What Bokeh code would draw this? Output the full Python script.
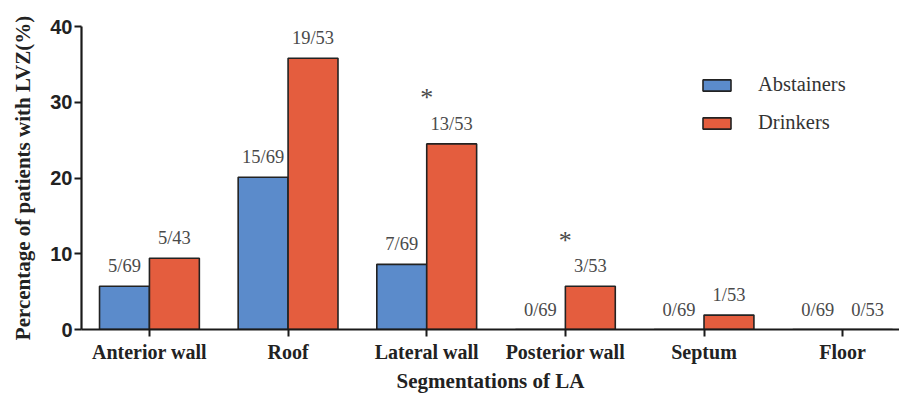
import numpy as np
from bokeh.plotting import figure
from bokeh.models import Range1d, FixedTicker, ColumnDataSource, Legend, LegendItem
from bokeh.core.properties import value
from bokeh.embed import file_html
from bokeh.resources import INLINE

categories = ["Anterior wall", "Roof", "Lateral wall", "Posterior wall", "Septum", "Floor"]
abstainers = [5.7, 20.1, 8.6, 0.0, 0.0, 0.0]
drinkers = [9.4, 35.8, 24.5, 5.7, 1.9, 0.0]
abst_labels = ["5/69", "15/69", "7/69", "0/69", "0/69", "0/69"]
drink_labels = ["5/43", "19/53", "13/53", "3/53", "1/53", "0/53"]
significant = ["Lateral wall", "Posterior wall"]
y_ticks = [0, 10, 20, 30, 40]

BLUE = "#5B8BCB"
RED = "#E45D3E"
SERIF = "Liberation Serif"

idx = np.arange(len(categories))
bw = 0.36

src_a = ColumnDataSource(dict(x=idx - bw / 2, top=abstainers, lab=abst_labels))
src_d = ColumnDataSource(dict(x=idx + bw / 2, top=drinkers, lab=drink_labels))
sig_idx = [categories.index(c) for c in significant]
src_s = ColumnDataSource(dict(x=[idx[i] for i in sig_idx],
                              y=[drinkers[i] for i in sig_idx],
                              t=["*"] * len(sig_idx)))

p = figure(width=899, height=395, output_backend="svg", toolbar_location=None,
           x_range=Range1d(-0.49, 5.41), y_range=Range1d(0, 40),
           min_border_left=81, min_border_right=0, min_border_top=26, min_border_bottom=0)
p.outline_line_color = None
p.grid.visible = False
p.background_fill_color = "white"

ra = p.vbar(x="x", top="top", width=bw, bottom=0, source=src_a,
            fill_color=BLUE, line_color="#222222", line_width=1.6)
rd = p.vbar(x="x", top="top", width=bw, bottom=0, source=src_d,
            fill_color=RED, line_color="#222222", line_width=1.6)

for s in (src_a, src_d):
    p.text(x="x", y="top", text="lab", source=s, text_align="center",
           text_baseline="middle", y_offset=-20, text_font=value(SERIF),
           text_font_size="18.5px", text_color="#4a4a4a")

p.text(x="x", y="y", text="t", source=src_s, text_align="center",
       text_baseline="middle", y_offset=-46, text_font=value(SERIF),
       text_font_size="26px", text_color="#4a4a4a")

# axes
p.xaxis.ticker = FixedTicker(ticks=list(idx))
p.xaxis.major_label_overrides = {int(i): c for i, c in zip(idx, categories)}
p.xaxis.minor_tick_line_color = None
p.yaxis.ticker = FixedTicker(ticks=y_ticks)
p.yaxis.minor_tick_line_color = None
for ax in (p.xaxis, p.yaxis):
    ax.axis_line_width = 2.2
    ax.axis_line_color = "#1a1a1a"
    ax.major_tick_line_width = 2
    ax.major_tick_line_color = "#1a1a1a"
    ax.major_tick_in = 0
    ax.major_tick_out = 7
    ax.axis_label_text_font = SERIF
    ax.axis_label_text_font_style = "bold"
    ax.axis_label_text_color = "#222222"

p.xaxis.major_label_text_font = SERIF
p.xaxis.major_label_text_font_style = "bold"
p.xaxis.major_label_text_font_size = "20px"
p.xaxis.major_label_text_color = "#222222"
p.xaxis.major_label_standoff = 4
p.xaxis.axis_label = "Segmentations of LA"
p.xaxis.axis_label_text_font_size = "21px"
p.xaxis.axis_label_standoff = 3

p.yaxis.major_label_text_font = "Liberation Sans"
p.yaxis.major_label_text_font_style = "bold"
p.yaxis.major_label_text_font_size = "20px"
p.yaxis.major_label_text_color = "#222222"
p.yaxis.major_label_standoff = 2
p.yaxis.axis_label = "Percentage of patients with LVZ(%)"
p.yaxis.axis_label_text_font_size = "21px"
p.yaxis.axis_label_standoff = 12

legend = Legend(items=[LegendItem(label="Abstainers", renderers=[ra]),
                       LegendItem(label="Drinkers", renderers=[rd])],
                location=(618, 195), orientation="vertical",
                glyph_width=35, glyph_height=14, label_height=20,
                label_standoff=24, spacing=15, padding=0, margin=0,
                border_line_color=None, background_fill_alpha=0,
                label_text_font=SERIF, label_text_font_size="20.5px",
                label_text_color="#333333")
p.add_layout(legend)

open("out.html", "w").write(file_html(p, INLINE))
